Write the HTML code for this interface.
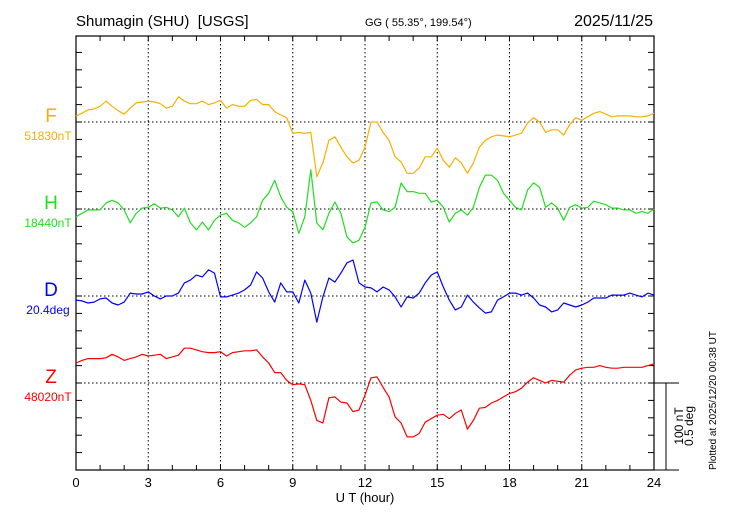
<!DOCTYPE html>
<html><head><meta charset="utf-8"><style>
body{margin:0;background:#fff;}
svg{display:block;font-family:"Liberation Sans",sans-serif;}
</style></head><body>
<svg id="chart" width="730" height="520" viewBox="0 0 730 520">
<text x="76" y="26" font-size="15" fill="#000">Shumagin (SHU)&#160; [USGS]</text>
<text x="365" y="26" font-size="11" fill="#000">GG ( 55.35°, 199.54°)</text>
<text x="653" y="26" font-size="16" fill="#000" text-anchor="end">2025/11/25</text>
<g id="grid"></g>
<g id="axes"></g>
<g id="series"></g>
<g>
<text x="51" y="122" font-size="19" fill="#f7b000" text-anchor="middle">F</text>
<text x="48" y="140" font-size="12" fill="#f7b000" text-anchor="middle">51830nT</text>
<text x="51" y="209" font-size="19" fill="#22dd22" text-anchor="middle">H</text>
<text x="48" y="227" font-size="12" fill="#22dd22" text-anchor="middle">18440nT</text>
<text x="51" y="296" font-size="19" fill="#0000ff" text-anchor="middle">D</text>
<text x="48" y="314" font-size="12" fill="#0000ff" text-anchor="middle">20.4deg</text>
<text x="51" y="383" font-size="19" fill="#ff0000" text-anchor="middle">Z</text>
<text x="48" y="401" font-size="12" fill="#ff0000" text-anchor="middle">48020nT</text>
</g>
<text x="365" y="502" font-size="13" text-anchor="middle">U T (hour)</text>
<g>
<line x1="654" y1="383" x2="679" y2="383" stroke="#000" stroke-width="1"/>
<line x1="666" y1="383" x2="666" y2="470" stroke="#000" stroke-width="1"/>
<line x1="654" y1="470" x2="679" y2="470" stroke="#000" stroke-width="1"/>
<text transform="translate(683,426) rotate(-90)" font-size="12" text-anchor="middle">100 nT</text>
<text transform="translate(693,426) rotate(-90)" font-size="12" text-anchor="middle">0.5 deg</text>
</g>
<text transform="translate(716,470) rotate(-90)" font-size="10">Plotted at 2025/12/20 00:38 UT</text>
</svg>
<script>
const hours = Array.from({length:97},(_, i)=>i*0.25);
const xTickLabels = ["0","3","6","9","12","15","18","21","24"];
const fValues = [7,10,14,15,18,24,18,13,9,16,22,23,24,23,21,16,18,29,24,21,21,24,20,22,25,16,20,18,18,25,26,20,
 20,12,8,5,-13,-12,-13,-12,-63,-47,-21,-17,-29,-40,-47,-44,-29,0,0,-12,-21,-40,-46,-59,-59,-53,-40,-40,-30,-44,-52,-41,-47,-59,-47,-29,-21,-17,-15,-16,-17,-15,-13,-1,5,0,-12,-9,-9,-15,-3,5,2,6,10,12,9,6,7,7,7,6,6,7,10];
const hValues = [-9,-5,-1,-1,-1,7,10,7,-1,-16,-5,1,2,6,1,2,-1,-9,1,-16,-24,-15,-24,-13,-7,-5,-13,-16,-21,-16,-9,10,
 18,33,14,2,-3,-28,-9,45,-16,-24,-5,8,-5,-32,-39,-36,-21,7,8,-1,-3,2,30,20,20,18,18,8,10,2,-15,-5,-1,-7,2,25,39,39,33,18,10,2,-1,22,30,25,2,7,1,-13,2,5,1,2,9,7,5,1,1,-1,-1,-5,-3,-5,0];
const dValuesArcmin = [-1.4,-1.7,-2.4,-2.1,-1.0,-0.7,-2.4,-3.1,-2.1,1.0,0.7,0.7,1.4,0,-1.0,0,
 0,1.0,4.5,5.5,7.2,6.6,9.0,7.9,-0.3,-0.3,0.3,1.0,2.1,3.8,8.3,6.2,1.4,-2.1,4.5,1.4,1.4,-2.4,5.5,1.0,-9.0,-0.3,6.2,4.8,7.9,11.4,12.4,4.5,
 3.1,2.8,1.4,3.1,2.1,-0.3,-3.8,-0.3,-0.7,1.0,4.5,7.2,8.3,3.1,-1.4,-4.8,-3.8,0.3,-2.1,-4.1,-5.9,-5.5,-1.4,-0.3,1.0,1.0,0.3,1.0,-0.7,-3.1,-3.8,-5.5,-4.8,-2.4,-3.1,-3.8,-3.1,-2.1,-0.7,-0.7,-0.7,0.3,0.3,0.3,1.0,0.3,-0.3,1.0,0.3];
const zValues = [23,26,28,28,28,29,33,30,26,28,30,33,31,32,33,28,30,32,40,40,38,36,35,35,36,31,35,36,37,37,38,30,
 23,12,12,3,-2,-1,-2,-20,-43,-46,-17,-16,-22,-23,-33,-31,-14,6,7,-5,-16,-39,-46,-62,-62,-58,-45,-41,-37,-36,-41,-35,-31,-53,-43,-29,-28,-23,-20,-16,-12,-10,-6,1,6,3,0,3,2,1,9,15,17,18,18,20,18,17,17,18,18,18,18,20,22];

const NS='http://www.w3.org/2000/svg';
const X0=76,X1=654,Y0=36,Y1=470;
const pxPerNT=87/100, pxPerArcmin=87/30;
function xScale(h){return X0+(h/24)*(X1-X0);}
function mk(tag,attrs,parent){const e=document.createElementNS(NS,tag);for(const k in attrs)e.setAttribute(k,attrs[k]);parent.appendChild(e);return e;}
const grid=document.getElementById('grid'),axes=document.getElementById('axes'),series=document.getElementById('series');
for(let h=3;h<24;h+=3){const l=mk('line',{x1:xScale(h),x2:xScale(h),y1:Y0,y2:Y1,stroke:'#000','stroke-width':1,'stroke-dasharray':'1.5,2.5'},grid);

}
const baselines=[122,209,296,383];
baselines.forEach(b=>{const l=mk('line',{x1:X0,x2:X1,y1:b,y2:b,stroke:'#000','stroke-width':1,'stroke-dasharray':'1.5,2.5'},grid);

});
const fr=mk('rect',{x:X0,y:Y0,width:X1-X0,height:Y1-Y0,fill:'none',stroke:'#000','stroke-width':1.2},axes);


for(let h=0;h<=24;h++){const x=xScale(h);
 mk('line',{x1:x,x2:x,y1:Y1,y2:Y1-5,stroke:'#000'},axes);
 mk('line',{x1:x,x2:x,y1:Y0,y2:Y0+5,stroke:'#000'},axes);}
xTickLabels.forEach((t,i)=>{const tx=mk('text',{x:xScale(i*3),y:487,'font-size':13,'text-anchor':'middle'},axes);tx.textContent=t;

});
for(let k=0;k<=25;k++){const y=Y1-k*17.4;if(y<Y0+2)continue;
 mk('line',{x1:X0,x2:X0+6,y1:y,y2:y,stroke:'#000'},axes);
 mk('line',{x1:X1,x2:X1-6,y1:y,y2:y,stroke:'#000'},axes);}
function draw(vals,base,scale,color,name){
 const pts=vals.map((v,i)=>xScale(hours[i]).toFixed(1)+','+(base-v*scale).toFixed(1)).join(' ');
 const p=mk('polyline',{points:pts,fill:'none',stroke:color,'stroke-width':1.2,'stroke-linejoin':'round'},series);
 
 
}
draw(fValues,122,pxPerNT,'#f7b000','f-series-line');
draw(hValues,209,pxPerNT,'#22dd22','h-series-line');
draw(dValuesArcmin,296,pxPerArcmin,'#0000ff','d-series-line');
draw(zValues,383,pxPerNT,'#ff0000','z-series-line');
</script>
</body></html>
